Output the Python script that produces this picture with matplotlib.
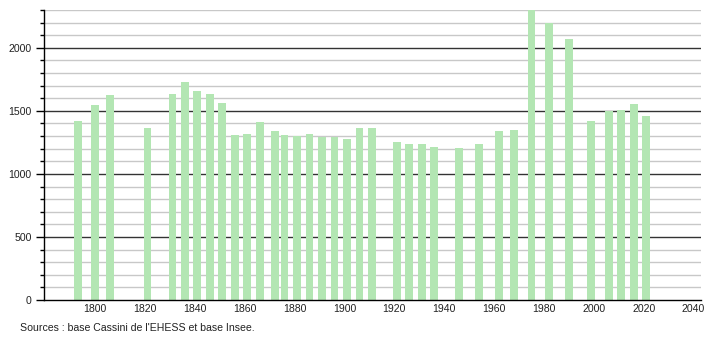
import matplotlib
matplotlib.use("Agg")
import matplotlib.pyplot as plt
from matplotlib.ticker import MultipleLocator

years = [1793, 1800, 1806, 1821, 1831, 1836, 1841, 1846, 1851, 1856, 1861, 1866,
         1872, 1876, 1881, 1886, 1891, 1896, 1901, 1906, 1911, 1921, 1926, 1931,
         1936, 1946, 1954, 1962, 1968, 1975, 1982, 1990, 1999, 2006, 2011, 2016, 2021]
population = [1423, 1548, 1627, 1368, 1635, 1730, 1659, 1635, 1563, 1310, 1317, 1413,
              1341, 1310, 1302, 1317, 1294, 1294, 1278, 1368, 1368, 1254, 1238, 1238,
              1214, 1206, 1238, 1341, 1349, 2298, 2196, 2071, 1421, 1500, 1508, 1556, 1460]
x_ticks = list(range(1800, 2041, 20))
y_major = [0, 500, 1000, 1500, 2000]
source = "Sources : base Cassini de l'EHESS et base Insee."

plt.rcParams['font.family'] = ['Liberation Sans', 'DejaVu Sans']

fig = plt.figure(figsize=(7.1, 3.4), dpi=100)
ax = fig.add_axes([44/710, 40/340, (701-44)/710, 290/340])

ax.set_xlim(1779.5, 2043)
ax.set_ylim(0, 2300)

# gridlines
for v in range(100, 2301, 100):
    if v % 500 == 0:
        ax.axhline(v, color='#333333', lw=1.0, zorder=1)
    else:
        ax.axhline(v, color='#c8c8c8', lw=1.0, zorder=1)

ax.bar(years, population, width=3.1, color='#b3e6b3', zorder=2, linewidth=0)

for s in ['top', 'right']:
    ax.spines[s].set_visible(False)
ax.spines['left'].set_color('black')
ax.spines['bottom'].set_color('black')
ax.spines['left'].set_linewidth(1.0)
ax.spines['bottom'].set_linewidth(1.0)

ax.set_xticks(x_ticks)
ax.set_xticklabels([str(t) for t in x_ticks])
ax.tick_params(axis='x', length=0, labelsize=7.6, pad=3, labelcolor='#222222')
ax.set_yticks(y_major)
ax.yaxis.set_minor_locator(MultipleLocator(100))
ax.tick_params(axis='y', which='major', length=6, width=1, labelsize=7.6, pad=3, labelcolor='#222222')
ax.tick_params(axis='y', which='minor', length=3, width=1)

fig.text(20/710, 1 - 328/340, source, fontsize=7.6, va='center', ha='left', color='#222222')

fig.savefig('out.png', dpi=100)
